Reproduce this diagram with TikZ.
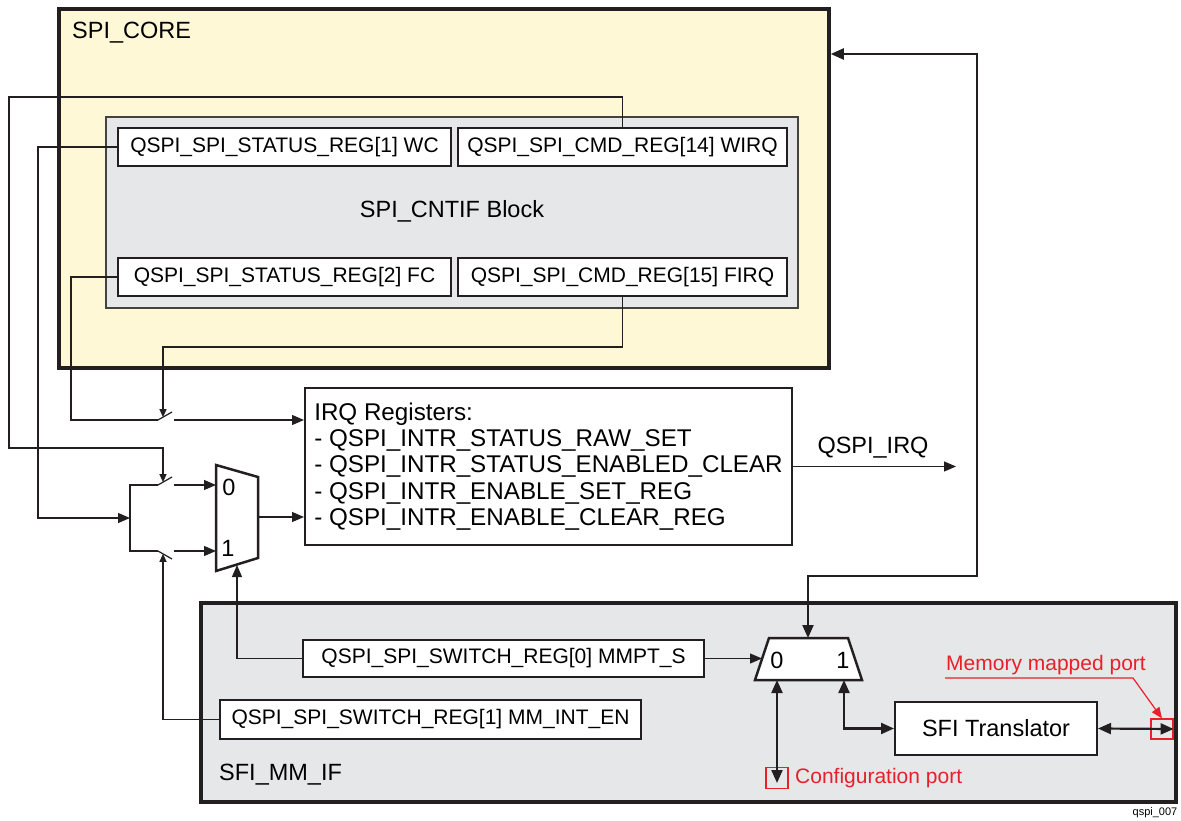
\documentclass[tikz,border=0pt]{standalone}
\usepackage{fontspec}
\setmainfont{Liberation Sans}
\usetikzlibrary{arrows.meta,calc}
\definecolor{corefill}{HTML}{FFF8D6}
\definecolor{blockgray}{HTML}{E6E7E9}
\definecolor{portred}{HTML}{E8202A}
\definecolor{inkdark}{HTML}{231F20}

\tikzset{
  reg/.style={draw=inkdark,line width=2pt,fill=white,inner sep=0pt,minimum height=38,font=\fontsize{21}{25}\selectfont},
  holder/.style={draw=inkdark,line width=3.5pt,inner sep=0pt},
  wire/.style={draw=inkdark,line width=1.2pt},
  sig/.style={wire,-{Triangle[length=12pt,width=10pt]}},
  ctl/.style={wire,-{Triangle[length=8pt,width=7pt]}},
  bus/.style={draw=inkdark,line width=2.2pt,{Triangle[length=13pt,width=11pt]}-{Triangle[length=13pt,width=11pt]}},
  big/.style={inner sep=1pt,font=\fontsize{23.5}{28}\selectfont},
  portlbl/.style={inner sep=1pt,text=portred,font=\fontsize{21}{25}\selectfont},
  portbox/.style={draw=portred,line width=1.2pt,inner sep=0pt,minimum width=22,minimum height=21},
  mux/.style={draw=inkdark,line width=2.5pt,fill=white,line join=miter},
}

\begin{document}
\begin{tikzpicture}[x=1pt,y=-1pt]
\useasboundingbox (0,0) rectangle (1181,821);

% ---- SPI_CORE ----
\node[holder,fill=corefill,minimum width=770,minimum height=359] (core) at (444,188.5) {};
\node[big,anchor=west] (corelbl) at (71,33) {SPI\_CORE};
\node[draw=inkdark!85,line width=2pt,fill=blockgray,inner sep=0pt,minimum width=692,minimum height=191] (cntif) at (452,212.5) {};
\node[big] (cntiflbl) at (452,211) {SPI\_CNTIF Block};

\node[reg,minimum width=333] (wc)   at (284.5,147) {QSPI\_SPI\_STATUS\_REG[1] WC};
\node[reg,minimum width=329] (wirq) at (622.5,147) {QSPI\_SPI\_CMD\_REG[14] WIRQ};
\node[reg,minimum width=333] (fc)   at (284.5,277) {QSPI\_SPI\_STATUS\_REG[2] FC};
\node[reg,minimum width=329] (firq) at (622.5,277) {QSPI\_SPI\_CMD\_REG[15] FIRQ};

% ---- IRQ registers ----
\node[reg,font=\fontsize{24.2}{26.3}\selectfont,align=left,minimum width=487,minimum height=157] (irq) at (548.5,466.5)
  {IRQ Registers:\\- QSPI\_INTR\_STATUS\_RAW\_SET\\- QSPI\_INTR\_STATUS\_ENABLED\_CLEAR\\- QSPI\_INTR\_ENABLE\_SET\_REG\\- QSPI\_INTR\_ENABLE\_CLEAR\_REG};
\node[big] (irqlbl) at (873,448) {QSPI\_IRQ};
\draw[sig] (irq.east) -- ++(163,0);

% ---- SFI_MM_IF ----
\node[holder,fill=blockgray,minimum width=975,minimum height=199] (mmif) at (688.5,702.5) {};
\node[big,anchor=west] (mmiflbl) at (218,775) {SFI\_MM\_IF};
\node[reg,minimum width=401,minimum height=37] (sw0) at (503.5,658.5) {QSPI\_SPI\_SWITCH\_REG[0] MMPT\_S};
\node[reg,minimum width=421,minimum height=39] (sw1) at (430.5,719.5) {QSPI\_SPI\_SWITCH\_REG[1] MM\_INT\_EN};
\node[reg,big,inner sep=0pt,minimum width=202,minimum height=53] (sfi) at (996,728.5) {SFI Translator};

% ---- muxes ----
\draw[mux] (216,465) -- (258,477) -- (258,558) -- (216,571) -- cycle;
\coordinate (muxA-in0) at (216,485);
\coordinate (muxA-in1) at (216,551);
\coordinate (muxA-out) at (258,517);
\coordinate (muxA-sel) at (237,565);
\node[big] (muxA0) at (229,487) {0};
\node[big] (muxA1) at (228,548) {1};

\draw[mux] (769,638) -- (848,638) -- (862,680) -- (755,680) -- cycle;
\coordinate (muxB-in)  at (762,658.5);
\coordinate (muxB-top) at (808,638);
\coordinate (muxB-0)   at (777,680);
\coordinate (muxB-1)   at (844,680);
\node[big] (muxB0) at (777,660) {0};
\node[big] (muxB1) at (843,660) {1};

% ---- switches ----
\foreach \sw/\yy/\tilt in {swA/420/-8, swB/485/-8, swC/551/8}{
  \coordinate (\sw-in)  at (158,\yy);
  \coordinate (\sw-out) at (174,\yy);
  \coordinate (\sw-tip) at (163,\yy+\tilt*5/14);
  \draw[wire] (\sw-in) -- ++(14,\tilt);
}
\coordinate (junc) at (130,518);
\coordinate (wtop) at (9,97);
\coordinate (wturn) at (163,448);

% ---- connections ----
\draw[ctl] (wirq.north) |- (wtop) |- (wturn) -- (swB-tip);
\draw[sig] (wc.west) -- ++(-79,0) |- (junc);
\draw[wire] (fc.west) -- ++(-46,0) |- (swA-in);
\draw[ctl] (firq.south) -- ++(0,50) -| (swA-tip);
\draw[sig] (swA-out) -- (swA-out -| irq.west);
\draw[wire] (swB-in) -| (junc) |- (swC-in);
\draw[sig] (swB-out) -- (muxA-in0);
\draw[sig] (swC-out) -- (muxA-in1);
\draw[sig] (muxA-out) -- (muxA-out -| irq.west);
\draw[sig] (sw0.west) -| (muxA-sel);
\draw[ctl] (sw1.west) -| (swC-tip);
\draw[sig] (sw0.east) -- (muxB-in);

% ---- ports ----
\coordinate (rbus) at (977,54);
\coordinate (rdrop) at (977,576);
\draw[bus] (core.east |- rbus) -- (rbus) -- (rdrop) -| (muxB-top);
\node[portbox] (cfgbox) at (777,778) {};
\node[portlbl,anchor=west] (cfglbl) at (794,778) {Configuration port};
\draw[bus] (muxB-0) -- ($(cfgbox.center)+(0,5)$);
\draw[bus] (muxB-1) |- (sfi.west);
\node[portbox,minimum height=20] (membox) at (1162,729) {};
\draw[bus] (sfi.east) -- (membox.east);
\node[portlbl] (memlbl) at (1046,665) {Memory mapped port};
\coordinate (memkink) at (1133,678);
\draw[portred,line width=1.2pt,-{Triangle[length=11pt,width=9pt]}] (memkink -| memlbl.west) -- (memkink) -- (membox.north);

\node[inner sep=0pt,font=\fontsize{11}{13}\selectfont] (figid) at (1155,813) {qspi\_007};
\end{tikzpicture}
\end{document}
